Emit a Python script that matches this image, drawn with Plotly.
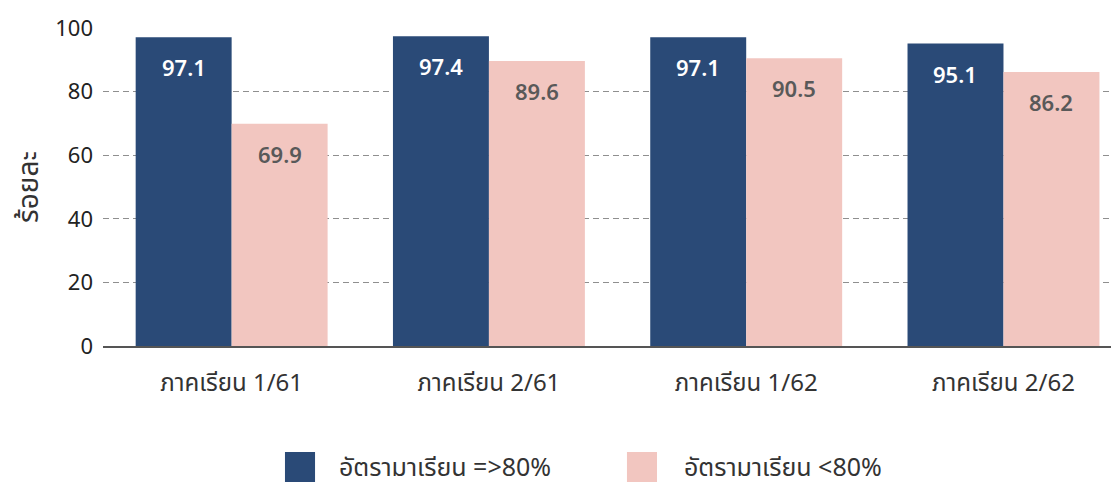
import plotly.graph_objects as go

categories = ["ภาคเรียน 1/61", "ภาคเรียน 2/61", "ภาคเรียน 1/62", "ภาคเรียน 2/62"]
series_names = ["อัตรามาเรียน =>80%", "อัตรามาเรียน <80%"]
high_values = [97.1, 97.4, 97.1, 95.1]
low_values = [69.9, 89.6, 90.5, 86.2]
y_ticks = [0, 20, 40, 60, 80, 100]

FONT = "Noto Sans, Noto Sans Thai, Loma, sans-serif"
BLUE = "#2a4a77"
PINK = "#f2c6c0"
COLORS = [BLUE, PINK]

fig = go.Figure()
fig.add_trace(go.Bar(x=categories, y=high_values, name=series_names[0], showlegend=False,
                     marker=dict(color=BLUE, line=dict(width=0))))
fig.add_trace(go.Bar(x=categories, y=low_values, name=series_names[1], showlegend=False,
                     marker=dict(color=PINK, line=dict(width=0))))

annotations = []
for i, c in enumerate(categories):
    annotations.append(dict(x=c, y=high_values[i], xref="x", yref="y", text=f"{high_values[i]:.1f}",
                            showarrow=False, xshift=-48, yshift=-30,
                            font=dict(family=FONT, size=22, color="white", weight=600)))
    annotations.append(dict(x=c, y=low_values[i], xref="x", yref="y", text=f"{low_values[i]:.1f}",
                            showarrow=False, xshift=48, yshift=-30,
                            font=dict(family=FONT, size=22, color="#595959", weight=600)))

# custom legend (large square swatches), paper coords
legend_sq_x = [(0.1791, 0.2087), (0.5157, 0.5453)]
legend_txt_x = [0.2303, 0.5699]
shapes = []
for k in range(2):
    shapes.append(dict(type="rect", xref="paper", yref="paper",
                       x0=legend_sq_x[k][0], x1=legend_sq_x[k][1], y0=-0.4277, y1=-0.3333,
                       fillcolor=COLORS[k], line=dict(width=0)))
    annotations.append(dict(x=legend_txt_x[k], y=-0.377, xref="paper", yref="paper",
                            xanchor="left", yanchor="middle", showarrow=False,
                            text=series_names[k],
                            font=dict(family=FONT, size=25, color="#333333")))

fig.update_layout(
    width=1111, height=475,
    margin=dict(l=95, r=0, t=20, b=137),
    paper_bgcolor="white", plot_bgcolor="white",
    barmode="group", bargap=0.254, bargroupgap=0,
    font=dict(family=FONT, size=20, color="#333333"),
    annotations=annotations,
    shapes=shapes,
    showlegend=False,
    xaxis=dict(range=[-0.5, 3.449], showline=True, linecolor="#555555", linewidth=1.5, ticks="",
               ticklabelstandoff=14,
               tickfont=dict(size=24, color="#333333")),
    yaxis=dict(range=[0, 100], tickvals=y_ticks, showgrid=True, gridcolor="#8f8f8f",
               griddash="6px,4px", gridwidth=1, zeroline=False, ticks="",
               ticklabelstandoff=9,
               tickfont=dict(size=22, color="#222222"),
               title=dict(text="ร้อยละ", font=dict(size=28, color="#333333"), standoff=18)),
)

fig.write_html("out.html")
